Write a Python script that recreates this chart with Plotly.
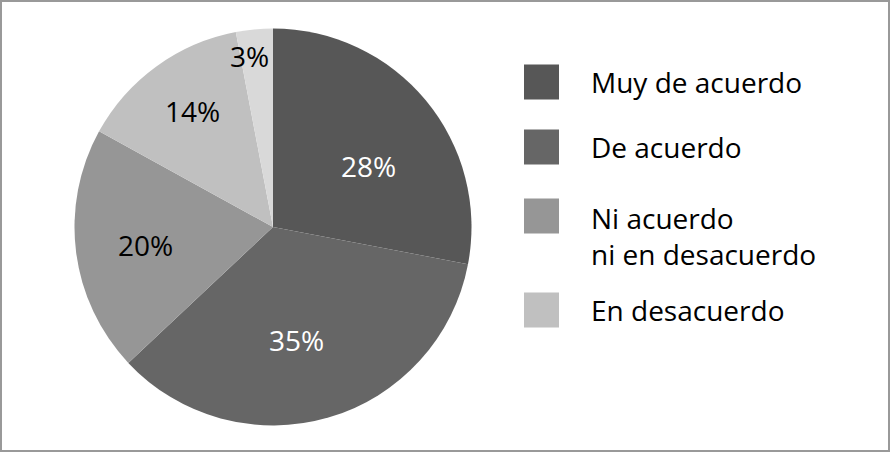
import math
import plotly.graph_objects as go

# Data
labels = ["Muy de acuerdo", "De acuerdo", "Ni acuerdo<br>ni en desacuerdo",
          "En desacuerdo", "Muy en desacuerdo"]
values = [28, 35, 20, 14, 3]
colors = ["#575757", "#666666", "#969696", "#c0c0c0", "#d9d9d9"]
text_colors = ["white", "white", "black", "black", "black"]
legend_count = 4  # last slice is not listed in the legend

W, H = 890, 452
FONT = "Open Sans"
FS = 28

# pie geometry (pixels)
cx, cy, R = 273, 227, 198.5
label_r = [0.571, 0.581, 0.651, 0.711, 0.869]  # how far out each % label sits
label_nudge = [7.0, 4.5, -0.8, 1.0, -2.3]      # degrees off the slice mid angle

fig = go.Figure()
fig.add_trace(go.Pie(
    labels=labels,
    values=values,
    sort=False,
    direction="clockwise",
    rotation=0,
    marker=dict(colors=colors, line=dict(width=0)),
    textinfo="none",
    hoverinfo="label+percent",
    showlegend=False,
    domain=dict(x=[(cx - R) / W, (cx + R) / W], y=[1 - (cy + R) / H, 1 - (cy - R) / H]),
))

shapes = []
annotations = []

# percentage labels placed around each slice's mid angle
total = sum(values)
cum = 0
for i, v in enumerate(values):
    mid = math.radians((cum + v / 2) / total * 360 + label_nudge[i])
    cum += v
    px = cx + label_r[i] * R * math.sin(mid)
    py = cy - label_r[i] * R * math.cos(mid)
    annotations.append(dict(
        xref="paper", yref="paper", x=px / W, y=1 - py / H,
        xanchor="center", yanchor="middle", showarrow=False,
        text=f"{round(v / total * 100)}%",
        font=dict(family=FONT, size=FS, color=text_colors[i]),
    ))

# Hand-built legend with large swatches
legend_y = [82, 147, 216, 310]
text_y = [82, 147, 236, 310]
for i in range(legend_count):
    sy = legend_y[i]
    shapes.append(dict(
        type="rect", xref="paper", yref="paper",
        x0=524 / W, x1=559 / W,
        y0=1 - (sy + 17.5) / H, y1=1 - (sy - 17.5) / H,
        fillcolor=colors[i], line=dict(width=0),
    ))
    annotations.append(dict(
        xref="paper", yref="paper",
        x=589 / W, y=1 - text_y[i] / H,
        xanchor="left", yanchor="middle", align="left",
        text=labels[i], showarrow=False,
        font=dict(family=FONT, size=FS, color="black"),
    ))

# Outer frame
shapes.append(dict(
    type="rect", xref="paper", yref="paper",
    x0=1 / W, x1=1 - 1 / W, y0=1 / H, y1=1 - 1 / H,
    line=dict(color="#999999", width=2), fillcolor="rgba(0,0,0,0)",
))

fig.update_layout(
    width=W, height=H,
    margin=dict(l=0, r=0, t=0, b=0),
    paper_bgcolor="white",
    plot_bgcolor="white",
    shapes=shapes,
    annotations=annotations,
    font=dict(family=FONT),
)

fig.write_html("out.html", config={"displayModeBar": False},
               post_script="document.body.style.margin='0px';")
